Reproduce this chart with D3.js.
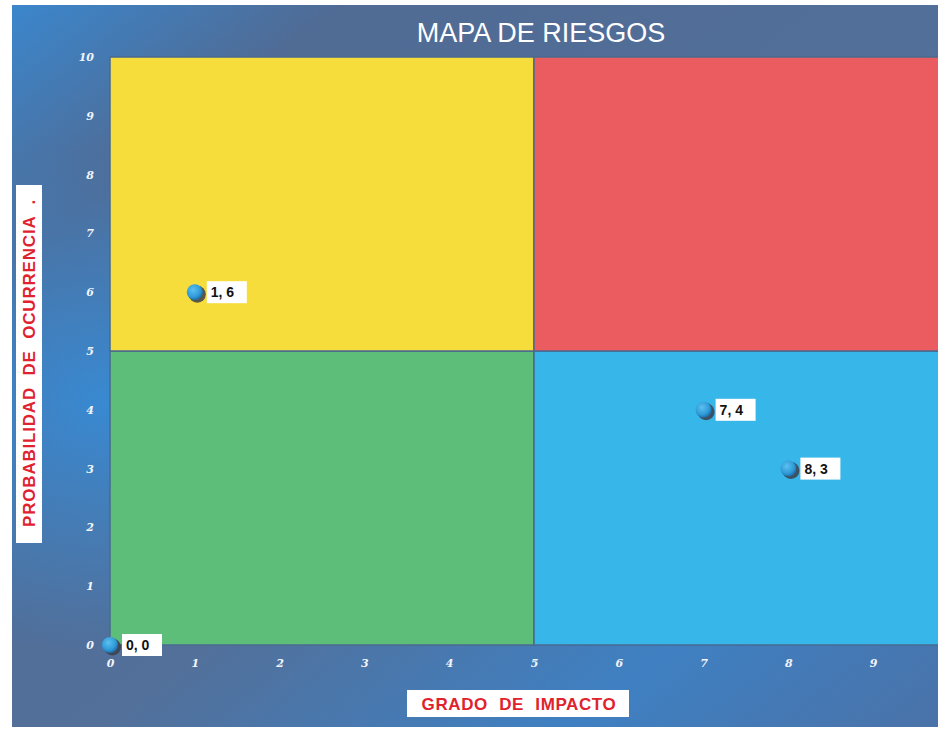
<!DOCTYPE html>
<html>
<head>
<meta charset="utf-8">
<script src="https://cdn.jsdelivr.net/npm/d3@7"></script>
<style>
  body { margin: 0; background: #fff; }
  svg { display: block; }
</style>
</head>
<body>
<script>
var W = 941,
    H = 736;

// data
var xTicks = [0, 1, 2, 3, 4, 5, 6, 7, 8, 9];
var yTicks = [0, 1, 2, 3, 4, 5, 6, 7, 8, 9, 10];
var zoneNames = ["Bajo", "Medio", "Medio", "Alto"];
var zoneX0 = [0, 0, 5, 5];
var zoneY0 = [0, 5, 0, 5];
var zoneColors = ["#5dbe7a", "#f6dd3c", "#37b6ea", "#ea5c5f"];
var riskImpact = [0, 1, 7, 8];
var riskProb = [0, 6, 4, 3];

var frame = {x: 12, y: 5, w: 926, h: 722};
var x = d3.scaleLinear().domain([0, 10]).range([110, 958]);
var y = d3.scaleLinear().domain([0, 10]).range([645, 57]);

var svg = d3.select("body").append("svg").attr("width", W).attr("height", H);
var defs = svg.append("defs");

var bg = defs.append("linearGradient").attr("id", "bg")
  .attr("x1", 0).attr("y1", 0).attr("x2", 1).attr("y2", 1);
bg.append("stop").attr("offset", "0%").attr("stop-color", "#3b86cc");
bg.append("stop").attr("offset", "18%").attr("stop-color", "#506b94");
bg.append("stop").attr("offset", "55%").attr("stop-color", "#52709a");
bg.append("stop").attr("offset", "80%").attr("stop-color", "#3f80c2");
bg.append("stop").attr("offset", "100%").attr("stop-color", "#4a72a8");

var glow = defs.append("radialGradient").attr("id", "glow")
  .attr("cx", "0.1").attr("cy", "0.55").attr("r", "0.35");
glow.append("stop").attr("offset", "0%").attr("stop-color", "#3390e0").attr("stop-opacity", 0.8);
glow.append("stop").attr("offset", "100%").attr("stop-color", "#3390e0").attr("stop-opacity", 0);

var dot = defs.append("radialGradient").attr("id", "dot")
  .attr("cx", "0.4").attr("cy", "0.35").attr("r", "0.65");
dot.append("stop").attr("offset", "0%").attr("stop-color", "#5cc0f0");
dot.append("stop").attr("offset", "70%").attr("stop-color", "#2e9ad8");
dot.append("stop").attr("offset", "100%").attr("stop-color", "#1f6ea8");

defs.append("clipPath").attr("id", "clip")
  .append("rect").attr("x", frame.x).attr("y", frame.y)
  .attr("width", frame.w).attr("height", frame.h);

svg.append("rect").attr("x", frame.x).attr("y", frame.y)
  .attr("width", frame.w).attr("height", frame.h).attr("fill", "url(#bg)");
svg.append("rect").attr("x", frame.x).attr("y", frame.y)
  .attr("width", frame.w).attr("height", frame.h).attr("fill", "url(#glow)");

var plot = svg.append("g").attr("clip-path", "url(#clip)");

// quadrants
plot.selectAll("rect.zone")
  .data(zoneNames)
  .enter()
  .append("rect")
  .attr("class", "zone")
  .attr("x", function(d, i) { return x(zoneX0[i]); })
  .attr("y", function(d, i) { return y(zoneY0[i] + 5); })
  .attr("width", function(d, i) { return x(zoneX0[i] + 5) - x(zoneX0[i]); })
  .attr("height", function(d, i) { return y(zoneY0[i]) - y(zoneY0[i] + 5); })
  .attr("fill", function(d, i) { return zoneColors[i]; })
  .attr("stroke", "#4a6a90")
  .attr("stroke-width", 1.5);

// axes
var xAxis = svg.append("g").attr("transform", "translate(0," + y(0) + ")")
  .call(d3.axisBottom(x).tickValues(xTicks).tickSize(0).tickPadding(14));
var yAxis = svg.append("g").attr("transform", "translate(" + x(0) + ",0)")
  .call(d3.axisLeft(y).tickValues(yTicks).tickSize(0).tickPadding(16));
[xAxis, yAxis].forEach(function(a) {
  a.select(".domain").remove();
  a.selectAll("text")
    .attr("fill", "#f2f5fb")
    .style("font-family", "'DejaVu Serif', 'Liberation Serif', serif")
    .style("font-style", "italic")
    .style("font-weight", "bold")
    .style("font-size", "11px");
});

// points
var pts = svg.append("g").selectAll("g")
  .data(riskImpact)
  .enter()
  .append("g")
  .attr("transform", function(d, i) { return "translate(" + x(d) + "," + y(riskProb[i]) + ")"; });

pts.append("circle")
  .attr("cx", 2.5).attr("cy", 2).attr("r", 8.5)
  .attr("fill", "#3d3f4a").attr("opacity", 0.85);
pts.append("circle")
  .attr("r", 8)
  .attr("fill", "url(#dot)");

pts.append("rect")
  .attr("x", 12).attr("y", -11).attr("width", 40).attr("height", 22)
  .attr("fill", "#ffffff");
pts.append("text")
  .attr("x", 16).attr("y", 5)
  .attr("fill", "#111")
  .style("font-family", "'Liberation Sans', Arial, sans-serif")
  .style("font-weight", "bold")
  .style("font-size", "14px")
  .text(function(d, i) { return d + ", " + riskProb[i]; });

// title
svg.append("text")
  .attr("x", 541).attr("y", 42)
  .attr("text-anchor", "middle")
  .attr("fill", "#ffffff")
  .style("font-family", "'Liberation Sans', Arial, sans-serif")
  .style("font-size", "27px")
  .text("MAPA DE RIESGOS");

// x title
svg.append("rect").attr("x", 407).attr("y", 690).attr("width", 222).attr("height", 27).attr("fill", "#ffffff");
svg.append("text")
  .attr("x", 519).attr("y", 710)
  .attr("text-anchor", "middle")
  .attr("fill", "#e0222e")
  .style("font-family", "'Liberation Sans', Arial, sans-serif")
  .style("font-weight", "bold")
  .style("font-size", "17px")
  .style("letter-spacing", "0.6px")
  .style("word-spacing", "6px")
  .text("GRADO DE IMPACTO");

// y title
svg.append("rect").attr("x", 16).attr("y", 185).attr("width", 26).attr("height", 358).attr("fill", "#ffffff");
svg.append("text")
  .attr("transform", "translate(35,363) rotate(-90)")
  .attr("text-anchor", "middle")
  .attr("fill", "#e0222e")
  .style("font-family", "'Liberation Sans', Arial, sans-serif")
  .style("font-weight", "bold")
  .style("font-size", "17px")
  .style("letter-spacing", "0.8px")
  .style("word-spacing", "6px")
  .text("PROBABILIDAD DE OCURRENCIA  .");
</script>
</body>
</html>
